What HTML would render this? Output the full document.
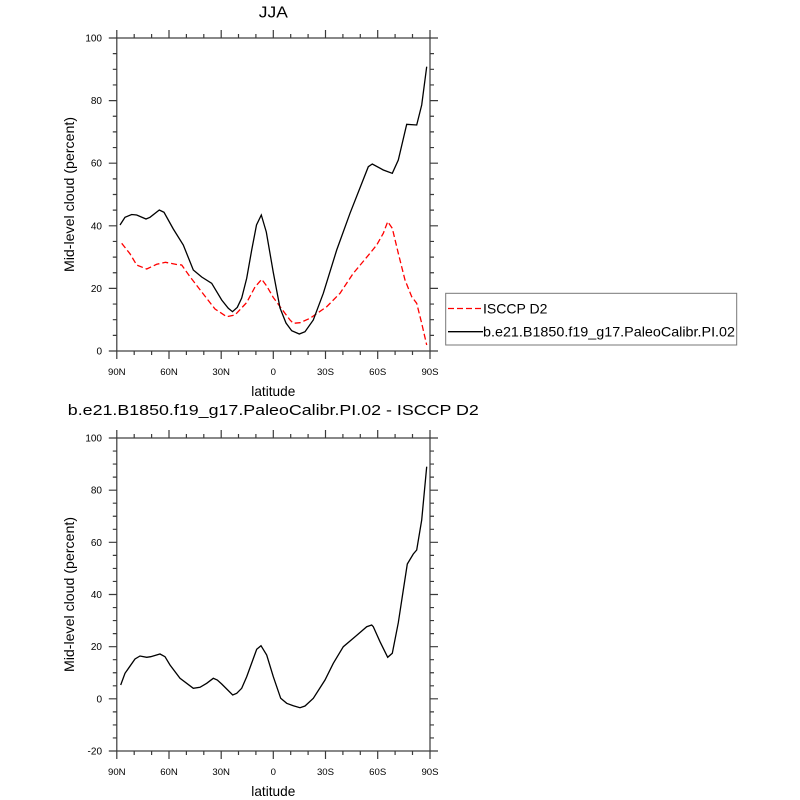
<!DOCTYPE html>
<html><head><meta charset="utf-8"><style>
html,body{margin:0;padding:0;background:#fff;}
svg{display:block;}
text{font-family:"Liberation Sans",sans-serif;fill:#000;}
</style></head><body>
<svg width="800" height="800" viewBox="0 0 800 800" xmlns="http://www.w3.org/2000/svg">
<rect width="800" height="800" fill="#fff"/>
<!-- ===== TOP PLOT ===== -->
<text x="273.3" y="17.5" font-size="16" text-anchor="middle" textLength="29" lengthAdjust="spacingAndGlyphs">JJA</text>
<g fill="none" stroke="#3a3a3a" stroke-width="1.2">
<rect x="116.8" y="38" width="313.2" height="313"/>
<path d="M116.8 351v8M169 351v8M221.2 351v8M273.3 351v8M325.5 351v8M377.7 351v8M430 351v8
M116.8 38v-8M169 38v-8M221.2 38v-8M273.3 38v-8M325.5 38v-8M377.7 38v-8M430 38v-8
M134.2 351v4M151.6 351v4M186.4 351v4M203.8 351v4M238.5 351v4M255.9 351v4M290.7 351v4M308.1 351v4M342.9 351v4M360.3 351v4M395.1 351v4M412.5 351v4
M134.2 38v-4M151.6 38v-4M186.4 38v-4M203.8 38v-4M238.5 38v-4M255.9 38v-4M290.7 38v-4M308.1 38v-4M342.9 38v-4M360.3 38v-4M395.1 38v-4M412.5 38v-4
M116.8 351h-8M116.8 288.4h-8M116.8 225.8h-8M116.8 163.2h-8M116.8 100.6h-8M116.8 38h-8
M430 351h8M430 288.4h8M430 225.8h8M430 163.2h8M430 100.6h8M430 38h8
M116.8 335.35h-4M116.8 319.7h-4M116.8 304.05h-4M116.8 272.75h-4M116.8 257.1h-4M116.8 241.45h-4M116.8 210.15h-4M116.8 194.5h-4M116.8 178.85h-4M116.8 147.55h-4M116.8 131.9h-4M116.8 116.25h-4M116.8 84.95h-4M116.8 69.3h-4M116.8 53.65h-4
M430 335.35h4M430 319.7h4M430 304.05h4M430 272.75h4M430 257.1h4M430 241.45h4M430 210.15h4M430 194.5h4M430 178.85h4M430 147.55h4M430 131.9h4M430 116.25h4M430 84.95h4M430 69.3h4M430 53.65h4"/>
</g>
<g font-size="10" text-anchor="end">
<text x="102" y="354.5">0</text>
<text x="102" y="291.9">20</text>
<text x="102" y="229.3">40</text>
<text x="102" y="166.7">60</text>
<text x="102" y="104.1">80</text>
<text x="102" y="41.5">100</text>
</g>
<g font-size="9.6" text-anchor="middle">
<text x="116.8" y="375">90N</text>
<text x="169" y="375">60N</text>
<text x="221.2" y="375">30N</text>
<text x="273.3" y="375">0</text>
<text x="325.5" y="375">30S</text>
<text x="377.7" y="375">60S</text>
<text x="430" y="375">90S</text>
</g>
<text x="273.3" y="396" font-size="14" text-anchor="middle" textLength="44" lengthAdjust="spacingAndGlyphs">latitude</text>
<text transform="translate(74,194.5) rotate(-90)" font-size="14" text-anchor="middle" textLength="155" lengthAdjust="spacingAndGlyphs">Mid-level cloud (percent)</text>
<polyline fill="none" stroke="#ff0000" stroke-width="1.3" stroke-dasharray="6 3" points="121.7,243.3 130,253.8 136.7,265 146.7,269 156.7,264.3 165.5,262.3 176.7,264.5 181.7,265 190,276.7 203.3,294 215,309 226.7,316.7 235,315 246.7,302.5 255,287 261.7,279.3 266.7,286 273.3,297.5 282.5,310 290,320 293.3,323.3 300,322.7 310,318.3 326.7,306.7 340,293.3 353.3,273.3 370,253.3 376.7,245 383.3,233.3 387.7,221.7 392.3,228.3 398.3,253.3 405,280 411.7,296.7 416.7,303.3 421.7,323.3 426.7,345"/>
<polyline fill="none" stroke="#000" stroke-width="1.3" points="120,225 125,217.3 131.7,214.5 136.7,215 146,219 150,217.3 159.3,210 164,212.3 173.3,229 183.3,245 193.3,270 201.7,277 211.7,283.3 221.7,300 228.3,308.3 232.5,311.7 237.3,307.3 241.7,298 246.7,278.3 251.7,250 256.5,225 261.3,215 266.3,232 273.3,272.5 280,308 286,323 291.7,330.7 299.3,334 305,331.7 313.3,320 323.3,293.3 336.7,250 350,213.3 368.3,166.7 372.3,164 383.3,170 392.3,173.3 398.3,160 406.7,124.3 416.7,125 421.7,105 426.7,66.7"/>
<!-- legend -->
<rect x="445.7" y="293.3" width="291" height="51.7" fill="#fff" stroke="#777" stroke-width="1"/>
<line x1="448" y1="308.5" x2="483" y2="308.5" stroke="#ff0000" stroke-width="1.3" stroke-dasharray="6 3"/>
<line x1="448" y1="331.7" x2="483" y2="331.7" stroke="#000" stroke-width="1.3"/>
<text x="483" y="313.5" font-size="14" textLength="64.5" lengthAdjust="spacingAndGlyphs">ISCCP D2</text>
<text x="483" y="336.5" font-size="14" textLength="252" lengthAdjust="spacingAndGlyphs">b.e21.B1850.f19_g17.PaleoCalibr.PI.02</text>

<!-- ===== BOTTOM PLOT ===== -->
<text x="273.3" y="415" font-size="14.5" text-anchor="middle" textLength="411" lengthAdjust="spacingAndGlyphs">b.e21.B1850.f19_g17.PaleoCalibr.PI.02 - ISCCP D2</text>
<g fill="none" stroke="#3a3a3a" stroke-width="1.2">
<rect x="116.8" y="438" width="313.2" height="313"/>
<path d="M116.8 751v8M169 751v8M221.2 751v8M273.3 751v8M325.5 751v8M377.7 751v8M430 751v8
M116.8 438v-8M169 438v-8M221.2 438v-8M273.3 438v-8M325.5 438v-8M377.7 438v-8M430 438v-8
M134.2 751v4M151.6 751v4M186.4 751v4M203.8 751v4M238.5 751v4M255.9 751v4M290.7 751v4M308.1 751v4M342.9 751v4M360.3 751v4M395.1 751v4M412.5 751v4
M134.2 438v-4M151.6 438v-4M186.4 438v-4M203.8 438v-4M238.5 438v-4M255.9 438v-4M290.7 438v-4M308.1 438v-4M342.9 438v-4M360.3 438v-4M395.1 438v-4M412.5 438v-4
M116.8 751h-8M116.8 698.83h-8M116.8 646.67h-8M116.8 594.5h-8M116.8 542.33h-8M116.8 490.17h-8M116.8 438h-8
M430 751h8M430 698.83h8M430 646.67h8M430 594.5h8M430 542.33h8M430 490.17h8M430 438h8
M116.8 737.96h-4M116.8 724.92h-4M116.8 711.87h-4M116.8 685.79h-4M116.8 672.75h-4M116.8 659.71h-4M116.8 633.62h-4M116.8 620.58h-4M116.8 607.54h-4M116.8 581.46h-4M116.8 568.42h-4M116.8 555.37h-4M116.8 529.29h-4M116.8 516.25h-4M116.8 503.21h-4M116.8 477.12h-4M116.8 464.08h-4M116.8 451.04h-4
M430 737.96h4M430 724.92h4M430 711.87h4M430 685.79h4M430 672.75h4M430 659.71h4M430 633.62h4M430 620.58h4M430 607.54h4M430 581.46h4M430 568.42h4M430 555.37h4M430 529.29h4M430 516.25h4M430 503.21h4M430 477.12h4M430 464.08h4M430 451.04h4"/>
</g>
<g font-size="10" text-anchor="end">
<text x="102" y="754.5">-20</text>
<text x="102" y="702.3">0</text>
<text x="102" y="650.2">20</text>
<text x="102" y="598">40</text>
<text x="102" y="545.8">60</text>
<text x="102" y="493.7">80</text>
<text x="102" y="441.5">100</text>
</g>
<g font-size="9.6" text-anchor="middle">
<text x="116.8" y="775">90N</text>
<text x="169" y="775">60N</text>
<text x="221.2" y="775">30N</text>
<text x="273.3" y="775">0</text>
<text x="325.5" y="775">30S</text>
<text x="377.7" y="775">60S</text>
<text x="430" y="775">90S</text>
</g>
<text x="273.3" y="796" font-size="14" text-anchor="middle" textLength="44" lengthAdjust="spacingAndGlyphs">latitude</text>
<text transform="translate(74,594.5) rotate(-90)" font-size="14" text-anchor="middle" textLength="155" lengthAdjust="spacingAndGlyphs">Mid-level cloud (percent)</text>
<polyline fill="none" stroke="#000" stroke-width="1.3" points="120.7,685 125,673.3 135,659 140,656 146.7,657.3 150.7,656.7 160,654 165,656.7 170,665 180,678.3 193.3,688.3 200,687.3 206.7,683.3 213.3,678.3 217.3,680 221.7,684 232.7,695 236.7,693.3 241.7,688.3 246.7,676.7 256.7,649.3 261,645.7 266.7,655 273.3,676.7 280.7,698.3 286.7,703.3 293.3,705.7 300,707.7 305,706 313.3,698.3 325,680 333.3,663.3 343.3,646.7 353.3,638.3 366.7,626.7 371.7,625 373.3,626.7 380,641.7 387.7,657.3 392.3,653.3 398.3,622.7 403.3,590 407.3,564 413.3,554 416.7,550 421.7,520 426.7,466.7"/>
</svg>
</body></html>
